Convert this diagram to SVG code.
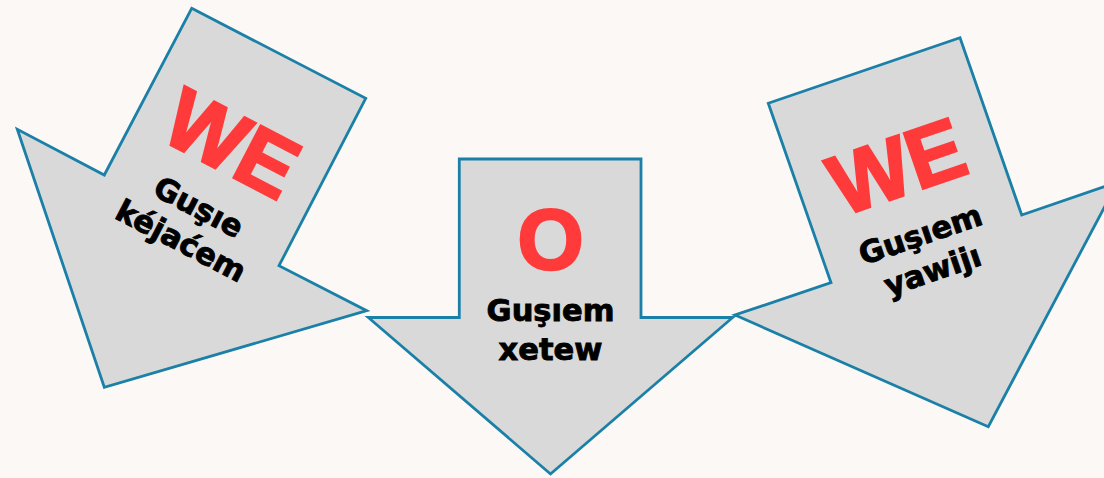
<svg xmlns="http://www.w3.org/2000/svg" width="1104" height="478" viewBox="0 0 1104 478">
<style>
.arrow{fill:#d9d9d9;stroke:#1a80a8;stroke-width:2.8;stroke-linejoin:miter}
.big{font-family:"Liberation Sans",Arial,sans-serif;font-weight:bold;font-size:85px;fill:#ff3a3a;stroke:#ff3a3a;stroke-width:2.6;stroke-linejoin:miter;text-anchor:middle}
.lbl{font-family:"DejaVu Sans",sans-serif;font-weight:bold;font-size:30.5px;fill:#000;stroke:#000;stroke-width:0.9;text-anchor:middle}
</style>
<rect width="1104" height="478" fill="#fcf8f5"/>
<g id="connectors"></g>
<g id="node-left">
<polygon class="arrow" points="191.7,8.3 365.7,98.3 279,265.7 366.7,310.7 104.3,387.3 17.3,129.3 104.3,175"/>
<g transform="translate(278.7,53.3) rotate(27.5)">
<text class="big" x="0" y="131">WE</text>
<text class="lbl" x="0" y="184">Guşıe</text>
<text class="lbl" x="0" y="222">kéjaćem</text>
</g>
</g>
<g id="node-middle">
<polygon class="arrow" points="459.3,159 641,159 641,317.5 732.7,317.5 550.5,474 368.3,317.5 459.3,317.5"/>
<g transform="translate(550.5,159)">
<text class="big" x="0" y="110">O</text>
<text class="lbl" x="0" y="161.7">Guşıem</text>
<text class="lbl" x="0" y="201">xetew</text>
</g>
</g>
<g id="node-right">
<polygon class="arrow" points="768.3,103.3 960,37.7 1021.7,215 1117.6,182.2 988.3,426.7 735,315 831,282.7"/>
<g transform="translate(864.2,70.5) rotate(-18.9)">
<text class="big" x="0" y="131">WE</text>
<text class="lbl" x="0" y="184">Guşıem</text>
<text class="lbl" x="0" y="222">yawijı</text>
</g>
</g>
</svg>
